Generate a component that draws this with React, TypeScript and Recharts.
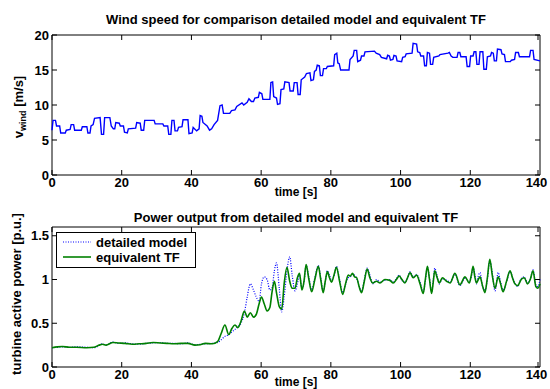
import React from 'react';
import { LineChart, Line, XAxis, YAxis, ReferenceArea } from 'recharts';

// wind speed [m/s], step-like signal
const windTime = [
  0, 0.3, 1.0, 1.3, 2.2, 2.5, 3.8, 4.1, 5.2, 5.5, 6.2, 6.5, 8.4, 8.7, 10.0, 10.3, 10.9, 11.2, 11.8, 12.2,
  13.8, 14.2, 14.8, 15.1, 16.6, 17.0, 17.6, 18.0, 18.3, 19.3, 19.6, 20.5, 20.8, 21.6, 21.9, 24.0, 24.3, 25.3, 25.6, 26.3,
  26.6, 29.3, 29.6, 31.8, 32.1, 33.2, 33.5, 34.1, 34.4, 35.0, 35.3, 36.0, 36.3, 37.3, 37.6, 39.0, 39.3, 40.2, 40.5, 41.5,
  42.2, 42.5, 43.0, 43.3, 44.5, 45.2, 45.8, 46.5, 47.5, 48.2, 48.8, 49.2, 51.0, 51.5, 52.5, 53.0, 54.5, 55.0, 56.0, 56.5,
  57.2, 57.8, 58.2, 59.2, 59.5, 60.2, 60.5, 62.5, 62.8, 63.3, 63.6, 64.4, 64.7, 65.4, 65.7, 66.5, 66.8, 68.0, 68.3, 69.2,
  69.5, 70.3, 70.6, 71.2, 71.5, 72.5, 73.0, 74.0, 74.3, 75.0, 75.3, 75.8, 76.1, 76.7, 77.0, 77.6, 77.9, 78.7, 79.0, 80.8,
  81.1, 81.7, 82.0, 82.4, 82.8, 85.2, 85.5, 86.4, 86.7, 87.4, 87.7, 88.5, 88.8, 89.5, 89.8, 92.5, 93.0, 94.0, 94.5, 96.0,
  96.3, 96.8, 97.1, 97.8, 98.1, 98.7, 99.0, 100.3, 100.6, 101.3, 101.6, 103.3, 103.6, 104.6, 104.9, 105.5, 105.8, 106.6, 106.9, 107.4,
  107.7, 108.3, 108.6, 109.2, 109.5, 111.0, 111.3, 113.6, 114.0, 114.5, 115.0, 116.2, 116.5, 117.0, 117.3, 118.8, 119.1, 119.8, 120.1, 120.8,
  121.1, 121.6, 121.9, 122.5, 122.8, 123.6, 123.9, 124.6, 124.9, 125.8, 126.1, 126.6, 126.9, 127.5, 127.8, 128.8, 129.1, 129.8, 130.1, 131.5,
  131.8, 132.7, 133.0, 133.8, 134.1, 137.0, 137.3, 138.0, 138.3, 140.0,
];
const windSpeed = [
  6.4, 7.8, 7.8, 7.0, 7.0, 6.0, 6.0, 6.4, 6.5, 7.2, 7.2, 6.4, 6.4, 6.9, 6.9, 6.0, 6.0, 7.0, 7.2, 8.1,
  8.2, 5.8, 5.8, 8.2, 8.2, 7.0, 6.6, 6.6, 7.5, 7.4, 7.0, 7.0, 6.1, 6.0, 6.6, 6.7, 7.5, 7.4, 6.4, 6.4,
  7.8, 7.8, 7.3, 7.3, 7.0, 7.0, 5.8, 5.8, 7.8, 7.8, 6.3, 6.3, 6.8, 6.9, 7.9, 7.9, 5.9, 6.0, 6.8, 6.3,
  6.6, 8.5, 8.4, 7.5, 7.0, 6.4, 6.6, 7.2, 7.8, 9.9, 10.0, 8.8, 8.8, 9.2, 9.3, 9.8, 10.3, 10.0, 10.4, 10.9,
  10.5, 10.5, 11.0, 11.1, 11.8, 11.6, 10.8, 10.8, 13.2, 13.3, 11.2, 11.0, 10.1, 10.2, 12.2, 12.3, 13.3, 13.2, 12.0, 12.0,
  13.2, 13.2, 11.5, 11.5, 13.6, 14.0, 14.5, 14.6, 13.5, 13.6, 14.8, 15.0, 15.7, 15.6, 14.2, 14.2, 15.2, 15.2, 15.5, 15.6,
  17.2, 17.4, 16.0, 15.9, 15.0, 15.0, 16.5, 17.0, 17.8, 17.8, 16.2, 16.4, 17.0, 17.0, 17.6, 17.7, 17.4, 17.2, 16.8, 16.6,
  17.1, 17.0, 16.4, 16.5, 17.1, 17.0, 16.3, 16.2, 16.8, 16.9, 17.3, 17.4, 18.8, 18.7, 17.6, 17.5, 17.0, 17.0, 15.6, 15.6,
  17.5, 17.4, 15.8, 15.8, 16.8, 17.0, 17.2, 17.4, 17.5, 17.0, 16.8, 16.8, 17.5, 17.5, 16.9, 16.9, 15.5, 15.5, 17.0, 17.0,
  17.6, 17.6, 15.8, 15.8, 17.6, 17.6, 15.1, 15.1, 16.9, 17.0, 17.5, 17.4, 16.3, 16.3, 18.0, 17.9, 17.3, 17.2, 16.2, 16.2,
  16.4, 16.5, 17.5, 17.5, 16.9, 16.9, 17.8, 17.8, 16.5, 16.3,
];

// turbine active power [p.u.], lower plot
const powerTime = [
  0, 1.5, 3, 5, 7, 10, 12, 13.5, 14.5, 15.5, 17.5, 19, 21, 23, 25, 27, 29, 31, 33, 35,
  37, 39, 41, 42.5, 44, 46, 47.5, 48.5, 49.6, 50.7, 51.6, 52.5, 53.3, 54.2, 55.2, 56.0, 56.9, 57.8, 58.6, 59.4,
  60.1, 60.9, 61.7, 62.5, 63.1, 63.8, 64.4, 65.2, 65.9, 66.6, 67.4, 68.2, 68.9, 69.7, 70.4, 71.0, 71.7, 72.3, 72.9, 73.7,
  74.5, 75.4, 76.4, 77.1, 77.8, 78.4, 79.0, 79.6, 80.2, 80.9, 81.6, 82.5, 83.4, 84.2, 85.0, 85.6, 86.2, 86.8, 87.4, 88.1,
  88.8, 89.6, 90.4, 91.2, 92.0, 93.1, 94.1, 95.5, 96.9, 97.9, 98.8, 99.6, 100.4, 101.2, 102.0, 102.7, 103.6, 104.6, 105.6, 106.5,
  107.1, 107.7, 108.3, 108.9, 109.4, 109.8, 110.5, 111.1, 112.0, 113.2, 114.2, 115.6, 117.0, 118.5, 119.7, 120.3, 120.8, 121.3, 121.8, 122.3,
  122.8, 123.5, 124.2, 124.9, 125.6, 126.3, 127.1, 128.0, 128.7, 129.4, 130.4, 131.4, 132.1, 132.8, 133.6, 134.6, 135.5, 136.4, 137.2, 138.0,
  138.8, 139.4, 140,
];
const detailedModel = [
  0.22, 0.225, 0.23, 0.225, 0.23, 0.225, 0.22, 0.245, 0.265, 0.25, 0.285, 0.27, 0.275, 0.265, 0.26, 0.27, 0.275, 0.28, 0.27, 0.27,
  0.265, 0.275, 0.255, 0.26, 0.265, 0.27, 0.28, 0.31, 0.35, 0.37, 0.40, 0.43, 0.46, 0.50, 0.62, 0.80, 0.95, 0.88, 0.80, 0.75,
  0.95, 1.03, 1.00, 0.88, 0.90, 1.10, 1.19, 0.90, 0.63, 0.80, 1.10, 1.26, 1.05, 0.87, 0.95, 1.05, 0.90, 0.97, 1.16, 1.02,
  0.88, 1.02, 1.16, 1.02, 0.87, 0.97, 1.10, 1.05, 0.99, 1.04, 1.15, 1.00, 0.85, 0.94, 1.02, 1.03, 1.06, 1.05, 1.01, 0.93,
  0.86, 1.00, 1.13, 1.05, 0.95, 1.00, 0.97, 0.99, 1.00, 0.97, 1.01, 1.05, 0.99, 0.97, 1.01, 1.09, 1.03, 1.06, 0.97, 0.86,
  0.98, 1.14, 1.02, 0.86, 1.00, 1.13, 1.04, 0.95, 1.01, 0.99, 0.97, 1.06, 0.93, 1.02, 0.97, 1.03, 1.14, 1.06, 0.95, 1.04,
  1.08, 0.92, 0.88, 1.00, 1.22, 1.08, 0.87, 1.08, 0.97, 0.88, 0.97, 1.09, 1.03, 0.96, 0.92, 1.01, 1.03, 0.96, 1.00, 1.11,
  0.94, 0.92, 1.00,
];
const equivalentTF = [
  0.22, 0.23, 0.235, 0.225, 0.225, 0.22, 0.225, 0.25, 0.26, 0.25, 0.28, 0.275, 0.27, 0.26, 0.265, 0.27, 0.28, 0.275, 0.27, 0.265,
  0.27, 0.27, 0.25, 0.255, 0.27, 0.265, 0.29, 0.38, 0.48, 0.37, 0.44, 0.48, 0.45, 0.52, 0.64, 0.57, 0.62, 0.57, 0.60, 0.72,
  0.80, 0.72, 0.64, 0.68, 0.85, 0.98, 0.85, 0.69, 0.66, 0.95, 1.14, 0.98, 0.90, 0.90, 1.02, 1.07, 0.88, 0.98, 1.17, 1.00,
  0.86, 1.00, 1.15, 1.00, 0.85, 0.98, 1.09, 1.02, 0.97, 1.05, 1.14, 0.98, 0.83, 0.95, 1.05, 1.04, 1.07, 1.03, 1.02, 0.92,
  0.85, 0.98, 1.12, 1.02, 0.96, 0.98, 0.96, 1.00, 0.99, 0.96, 1.00, 1.04, 1.00, 0.96, 1.02, 1.08, 1.02, 1.05, 0.95, 0.84,
  1.00, 1.15, 1.00, 0.84, 0.98, 1.10, 1.02, 0.96, 1.02, 0.98, 0.96, 1.07, 0.94, 1.03, 0.96, 1.05, 1.15, 1.03, 0.96, 1.00,
  1.03, 0.93, 0.85, 1.02, 1.23, 1.05, 0.90, 1.03, 0.95, 0.86, 0.98, 1.10, 1.02, 0.95, 0.93, 1.00, 1.02, 0.95, 1.00, 1.10,
  0.92, 0.90, 0.95,
];

const timeTicks = [0, 20, 40, 60, 80, 100, 120, 140];
const windTicks = [0, 5, 10, 15, 20];
const powerTicks = [0, 0.5, 1, 1.5];
const seriesNames = ['detailed model', 'equivalent TF'];

const windData = windTime.map((t, i) => ({ t, v: windSpeed[i] }));
const powerData = powerTime.map((t, i) => ({ t, detailed: detailedModel[i], tf: equivalentTF[i] }));

const FONT = '"Liberation Sans", Arial, Helvetica, sans-serif';
const PLOT_W = 488;
const PLOT_H = 140;
const TICK = 5;

// matlab style: ticks point inwards, on both sides of the box
const XTick = ({ x, y, payload }: any) => (
  <g>
    <line x1={x} y1={y} x2={x} y2={y - TICK} stroke="#000" />
    <line x1={x} y1={y - PLOT_H} x2={x} y2={y - PLOT_H + TICK} stroke="#000" />
    <text x={payload.value === 140 ? x - 1.5 : x} y={y + 12} textAnchor="middle" fontFamily={FONT}
      fontWeight="bold" fontSize={13} fill="#000">
      {payload.value}
    </text>
  </g>
);

const YTick = ({ x, y, payload }: any) => (
  <g>
    <line x1={x} y1={y} x2={x + TICK} y2={y} stroke="#000" />
    <line x1={x + PLOT_W} y1={y} x2={x + PLOT_W - TICK} y2={y} stroke="#000" />
    <text x={x - 3} y={y + 4.5} textAnchor="end" fontFamily={FONT} fontWeight="bold" fontSize={13} fill="#000">
      {payload.value}
    </text>
  </g>
);

const chartMargin = { top: 35, right: 10, bottom: 0, left: 0 };

export default function App() {
  return (
    <div style={{ position: 'absolute', left: 0, top: 0, width: 550, height: 389, background: '#fff', overflow: 'hidden' }}>
      <div style={{ position: 'absolute', left: 0, top: 0 }}>
        <LineChart width={550} height={200} data={windData} margin={chartMargin}>
          <XAxis type="number" dataKey="t" domain={[0, 140]} ticks={timeTicks} height={25}
            axisLine={false} tickLine={false} tickSize={0} tickMargin={0} tick={<XTick />} />
          <YAxis type="number" domain={[0, 20]} ticks={windTicks} width={52}
            axisLine={false} tickLine={false} tickSize={0} tickMargin={0} tick={<YTick />} />
          <ReferenceArea x1={0} x2={140} y1={0} y2={20} fill="none" fillOpacity={0} stroke="#000" strokeOpacity={1} />
          <Line type="linear" dataKey="v" stroke="#0000ff" strokeWidth={1.4} dot={false} isAnimationActive={false} />
        </LineChart>
      </div>
      <div style={{ position: 'absolute', left: 0, top: 192 }}>
        <LineChart width={550} height={200} data={powerData} margin={chartMargin}>
          <XAxis type="number" dataKey="t" domain={[0, 140]} ticks={timeTicks} height={25}
            axisLine={false} tickLine={false} tickSize={0} tickMargin={0} tick={<XTick />} />
          <YAxis type="number" domain={[0, 1.6]} ticks={powerTicks} width={52} allowDataOverflow
            axisLine={false} tickLine={false} tickSize={0} tickMargin={0} tick={<YTick />} />
          <ReferenceArea x1={0} x2={140} y1={0} y2={1.6} fill="none" fillOpacity={0} stroke="#000" strokeOpacity={1} />
          <Line type="monotone" dataKey="detailed" name={seriesNames[0]} stroke="#0000ff" strokeWidth={1.2}
            strokeDasharray="1 1.5" dot={false} isAnimationActive={false} />
          <Line type="monotone" dataKey="tf" name={seriesNames[1]} stroke="#008000" strokeWidth={1.6}
            dot={false} isAnimationActive={false} />
        </LineChart>
      </div>
      <svg width={550} height={389} style={{ position: 'absolute', left: 0, top: 0, pointerEvents: 'none' }}
        fontFamily={FONT} fontWeight="bold" fill="#000">
        <text x={296} y={24} textAnchor="middle" fontSize={13}>Wind speed for comparison detailed model and equivalent TF</text>
        <text x={296} y={196} textAnchor="middle" fontSize={12}>time [s]</text>
        <text transform="translate(23,107) rotate(-90)" textAnchor="middle" fontSize={13}>
          v<tspan dy={3} fontSize={9}>wind</tspan><tspan dy={-3}> [m/s]</tspan>
        </text>

        <text x={296} y={222} textAnchor="middle" fontSize={13}>Power output from detailed model and equivalent TF</text>
        <text x={296} y={386} textAnchor="middle" fontSize={12}>time [s]</text>
        <text transform="translate(21,294) rotate(-90)" textAnchor="middle" fontSize={13}>turbine active power [p.u.]</text>

        <rect x={56.5} y={232.5} width={139} height={35} fill="#fff" stroke="#000" />
        <line x1={63} y1={242} x2={91} y2={242} stroke="#0000ff" strokeWidth={1.2} strokeDasharray="1 1.5" />
        <line x1={63} y1={257} x2={91} y2={257} stroke="#008000" strokeWidth={1.6} />
        <text x={96} y={246.5} fontSize={13}>{seriesNames[0]}</text>
        <text x={96} y={261.5} fontSize={13}>{seriesNames[1]}</text>
      </svg>
    </div>
  );
}
